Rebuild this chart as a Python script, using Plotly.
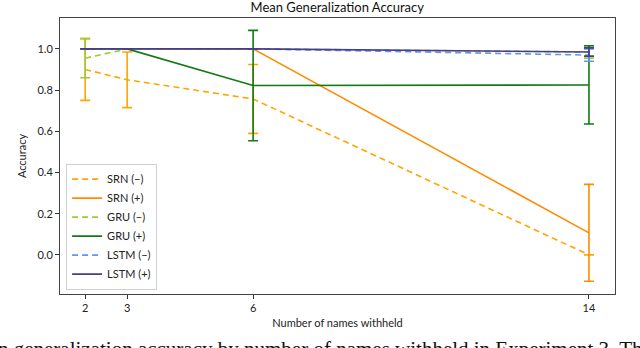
import plotly.graph_objects as go

# number of names withheld
names_withheld = [2, 3, 6, 14]

srn_minus = [0.90, 0.85, 0.757, 0.0]
srn_minus_err = [0.15, 0.135, 0.167, 0.0]
srn_plus = [1.0, 1.0, 1.0, 0.107]
srn_plus_err = [0.0, 0.0, 0.0, 0.235]
gru_minus = [0.955, 1.0, 1.0, 0.985]
gru_minus_err = [0.095, 0.0, 0.0, 0.03]
gru_plus = [1.0, 1.0, 0.822, 0.825]
gru_plus_err = [0.0, 0.0, 0.268, 0.19]
lstm_minus = [1.0, 1.0, 1.0, 0.97]
lstm_minus_err = [0.0, 0.0, 0.0, 0.03]
lstm_plus = [1.0, 1.0, 1.0, 0.985]
lstm_plus_err = [0.0, 0.0, 0.0, 0.02]

y_ticks = [0.0, 0.2, 0.4, 0.6, 0.8, 1.0]

series = [
    ("SRN (\u2212)", srn_minus, srn_minus_err, "#FFA500", "dash"),
    ("SRN (+)", srn_plus, srn_plus_err, "#FF8C00", "solid"),
    ("GRU (\u2212)", gru_minus, gru_minus_err, "#9ACD32", "dash"),
    ("GRU (+)", gru_plus, gru_plus_err, "#137A13", "solid"),
    ("LSTM (\u2212)", lstm_minus, lstm_minus_err, "#6495ED", "dash"),
    ("LSTM (+)", lstm_plus, lstm_plus_err, "#483D8B", "solid"),
]

FONT = "Lato, 'Open Sans', sans-serif"

fig = go.Figure()
for name, vals, errs, color, dash in series:
    fig.add_trace(go.Scatter(
        x=names_withheld, y=vals, name=name, mode="lines",
        line=dict(color=color, width=1.6, dash="6px,4px" if dash == "dash" else "solid"),
        error_y=dict(type="data", array=errs, visible=True,
                     color=color, thickness=1.6, width=5),
    ))

fig.update_layout(
    width=640, height=348,
    margin=dict(l=60, r=25, t=18, b=54),
    paper_bgcolor="white", plot_bgcolor="white",
    font=dict(family=FONT, size=11, color="#222"),
    title=dict(text="Mean Generalization Accuracy", x=0.527, xanchor="center",
               y=0.993, yanchor="top", font=dict(size=13, color="#111")),
    showlegend=True,
    legend=dict(x=0.011, y=0.016, xanchor="left", yanchor="bottom",
                bgcolor="rgba(255,255,255,0.85)", bordercolor="#d0d0d0",
                borderwidth=1, font=dict(size=11, color="#222"),
                tracegroupgap=0, itemwidth=30),
    xaxis=dict(
        range=[1.4, 14.62], tickvals=names_withheld,
        ticks="outside", ticklen=4, tickcolor="#333",
        showgrid=False, zeroline=False, automargin=False,
        showline=True, linecolor="#444", linewidth=1, mirror=True,
        title=dict(text="Number of names withheld", font=dict(size=11), standoff=6),
    ),
    yaxis=dict(
        range=[-0.19, 1.15], tickvals=y_ticks, tickformat=".1f",
        ticks="outside", ticklen=4, tickcolor="#333",
        showgrid=False, zeroline=False, automargin=False,
        showline=True, linecolor="#444", linewidth=1, mirror=True,
        title=dict(text="Accuracy", font=dict(size=11), standoff=8),
    ),
)

# caption of the source figure, cut off at the bottom edge
fig.add_annotation(
    text="Figure 3: Mean generalization accuracy by number of names withheld in Experiment 3. The",
    xref="paper", yref="paper", x=0.371, y=-0.201, xanchor="center", yanchor="middle",
    showarrow=False, font=dict(family="'Liberation Serif', 'DejaVu Serif', serif", size=21, color="#111"),
)

fig.write_html("out.html", config={"displayModeBar": False},
               post_script="document.body.style.margin='0';")
